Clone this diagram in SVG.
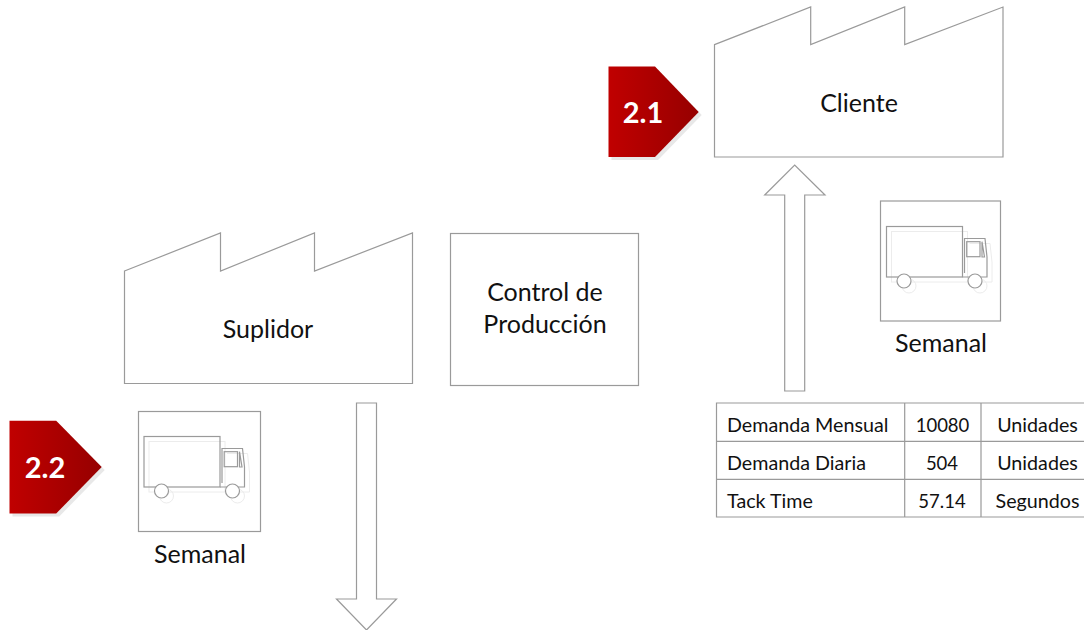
<svg xmlns="http://www.w3.org/2000/svg" width="1084" height="630" viewBox="0 0 1084 630">
<style>
.s{fill:#fff;stroke:#9a9a9a;stroke-width:1.2}
.l{fill:none;stroke:#9a9a9a;stroke-width:1.2}
.t{font-family:"Lato","Carlito","Open Sans",sans-serif;fill:#111;text-anchor:middle}
.b{font-size:25px}
.c{font-size:19.700px}
.d{font-size:18.500px}
.st{text-anchor:start}
.n{font-family:"Lato","Open Sans",sans-serif;font-weight:700;font-size:29px;fill:#fff;text-anchor:middle}
.sh{fill:none;stroke:#ececec;stroke-width:1}
</style>
<defs>
<linearGradient id="red" x1="0" y1="0" x2="1" y2="0"><stop offset="0" stop-color="#c00000"/><stop offset="1" stop-color="#960000"/></linearGradient>
<g id="truck">
<g class="sh" transform="translate(5,5)"><rect x="886.500" y="226.500" width="76" height="50.500"/><path d="M964.500 238.500H985L987 257V277H963"/><circle cx="904" cy="281" r="7"/><circle cx="975" cy="281" r="7"/></g>
<rect class="l" x="886.500" y="226.500" width="76" height="50.500"/>
<path class="l" d="M962.500 277H987V257L985 238.500H964.500V273"/>
<rect class="l" x="966.700" y="241.700" width="13.300" height="15"/>
<path class="l" d="M982 241.700L984.500 257H982Z"/>
<circle class="s" cx="904" cy="281" r="7"/>
<circle class="s" cx="975" cy="281" r="7"/>
</g>
</defs>
<g id="connectors">
<path class="s" d="M784.700 391V195H764.700L794.700 165L825 195H804.700V391Z"/>
<path class="s" d="M356.500 403V599H336.500L366.500 630L396.500 599H376.500V403Z"/>
</g>
<g id="cliente">
<path class="s" d="M714.500 44.600L810.700 7V44.600L904.700 7V44.600L1003 7V157H714.500Z"/>
<text class="t b" x="859" y="111.500">Cliente</text>
</g>
<g id="badge-2-1">
<path d="M611.500 69.500H658L701.700 115L658 160H611.500Z" fill="#e8e8e8"/>
<path d="M608.500 66.500H655L698.700 112L655 157H608.500Z" fill="url(#red)"/>
<text class="n" x="643" y="122.500">2.1</text>
</g>
<g id="truck-cliente">
<rect class="s" x="880.500" y="201" width="120" height="120"/>
<use href="#truck"/>
<text class="t b" x="941" y="352">Semanal</text>
</g>
<g id="suplidor">
<path class="s" d="M124.500 271L220.500 233V271L314.500 233V271L412.500 233V383.500H124.500Z"/>
<text class="t b" x="268" y="338">Suplidor</text>
</g>
<g id="control">
<rect class="s" x="450.500" y="233.500" width="188" height="152"/>
<text class="t b" x="545" y="301">Control de</text>
<text class="t b" x="545" y="333">Producción</text>
</g>
<g id="badge-2-2">
<path d="M12.500 423.700H59.200L104.700 470L59.200 516.500H12.500Z" fill="#e8e8e8"/>
<path d="M9.500 420.700H56.200L101.700 467L56.200 513.500H9.500Z" fill="url(#red)"/>
<text class="n" x="45" y="477.500">2.2</text>
</g>
<g id="truck-suplidor">
<rect class="s" x="138.500" y="411.500" width="122" height="120"/>
<use href="#truck" transform="translate(-742.500,210)"/>
<text class="t b" x="200" y="563">Semanal</text>
</g>
<g id="tabla">
<path class="l" d="M1084 403H716.500V517H1084M716.500 441.300H1084M716.500 479.300H1084M904.700 403V517M981 403V517"/>
<text class="t c st" x="727" y="431.500">Demanda Mensual</text>
<text class="t d" x="942.500" y="431.500">10080</text>
<text class="t c" x="1037.500" y="431.500">Unidades</text>
<text class="t c st" x="727" y="469.500">Demanda Diaria</text>
<text class="t d" x="942" y="469.500">504</text>
<text class="t c" x="1037.500" y="469.500">Unidades</text>
<text class="t c st" x="727" y="507.500">Tack Time</text>
<text class="t d" x="942" y="507.500">57.14</text>
<text class="t c" x="1037.500" y="507.500">Segundos</text>
</g>
</svg>
